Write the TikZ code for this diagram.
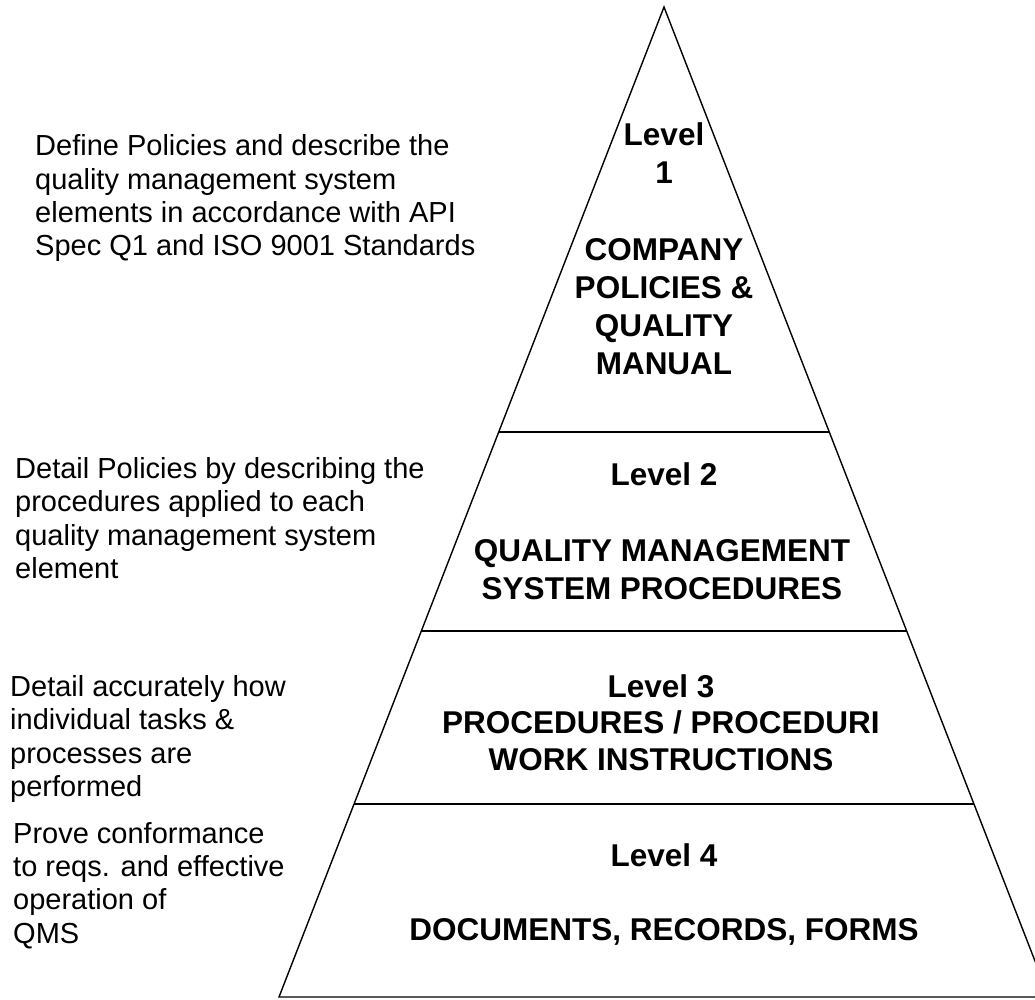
\documentclass[tikz,border=0pt]{standalone}
\usepackage{fontspec}
\setmainfont{Liberation Sans}

\begin{document}
\begin{tikzpicture}[x=1pt,y=-1pt,
    note/.style={anchor=north west,align=left,inner sep=0pt,font=\fontsize{29}{33.4}\selectfont},
    level/.style={anchor=north,align=center,inner sep=0pt,font=\fontsize{31.5}{38}\selectfont\bfseries}]
\useasboundingbox (0,0) rectangle (1035,1000);
\clip (0,0) rectangle (1035,1000);

% Pyramid
\coordinate (apex) at (664,7);
\coordinate (baseL) at (279,997);
\coordinate (baseR) at (1049,997);
\draw[line width=1.4pt] (baseL) -- (apex) -- (baseR) -- cycle;

% Dividers between the levels
\coordinate (d1L) at (499,432);
\coordinate (d1R) at (829,432);
\coordinate (d2L) at (422,631);
\coordinate (d2R) at (906,631);
\coordinate (d3L) at (354,804);
\coordinate (d3R) at (974,804);
\draw[line width=1.4pt] (d1L) -- (d1R);
\draw[line width=1.4pt] (d2L) -- (d2R);
\draw[line width=1.4pt] (d3L) -- (d3R);

% Levels
\node[level] (lev1) at (664,122.5) {Level\\1};
\node[level] (title1) at (664,238.5) {COMPANY\\POLICIES \&\\QUALITY\\MANUAL};
\node[level] (lev2) at (664,462.5) {Level 2};
\node[level] (title2) at (662,539.5) {QUALITY MANAGEMENT\\SYSTEM PROCEDURES};
\node[level,font=\fontsize{31.5}{36.5}\selectfont\bfseries] (lev3) at (661,674) {Level 3\\PROCEDURES / PROCEDURI\\WORK INSTRUCTIONS};
\node[level] (lev4) at (664,843.5) {Level 4};
\node[level] (title4) at (664,918.5) {DOCUMENTS, RECORDS, FORMS};

% Descriptions
\node[note] (desc1) at (35,134.5) {Define Policies and describe the\\quality management system\\elements in accordance with API\\Spec Q1 and ISO 9001 Standards};
\node[note] (desc2) at (15,457) {Detail Policies by describing the\\procedures applied to each\\quality management system\\element};
\node[note] (desc3) at (10,675) {Detail accurately how\\individual tasks \&\\processes are\\performed};
\node[note] (desc4) at (13,822) {Prove conformance\\to reqs. and effective\\operation of\\QMS};

\end{tikzpicture}
\end{document}
